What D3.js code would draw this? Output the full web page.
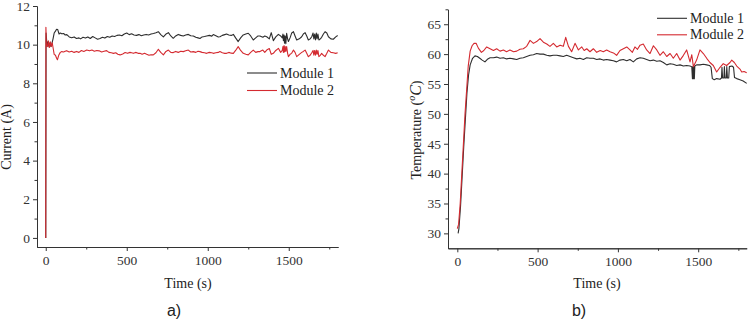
<!DOCTYPE html>
<html>
<head>
<meta charset="utf-8">
<script src="https://cdn.jsdelivr.net/npm/d3@7"></script>
<style>
  body { margin: 0; background: #fff; }
</style>
</head>
<body>
<svg id="chart" width="748" height="325"></svg>
<script>
// ---- data ----
const seriesNames = ['Module 1', 'Module 2'];

// current [time s, current A]
const current1 = [[0,0],[2,10.6],[8,9.95],[14,10.15],[20,9.9],[26,10.1],[32,9.9],[38,10.05],[45,10.3],[52,10.6],[60,10.7],[67,10.8],[74,10.78],[82,10.55],[90,10.6],[99,10.56],[110,10.58],[120,10.5],[130,10.52],[145,10.4],[160,10.36],[175,10.4],[190,10.32],[205,10.35],[215,10.3],[230,10.38],[245,10.34],[260,10.4],[275,10.32],[290,10.42],[305,10.35],[320,10.28],[335,10.32],[350,10.38],[365,10.34],[380,10.42],[395,10.38],[410,10.45],[425,10.42],[440,10.48],[455,10.5],[470,10.46],[485,10.55],[500,10.6],[515,10.52],[530,10.56],[545,10.5],[560,10.48],[575,10.52],[590,10.46],[605,10.5],[620,10.53],[635,10.5],[650,10.55],[665,10.58],[680,10.62],[695,10.67],[710,10.52],[726,10.4],[742,10.55],[757,10.62],[772,10.45],[787,10.33],[802,10.45],[818,10.53],[833,10.48],[849,10.45],[864,10.5],[880,10.53],[895,10.46],[911,10.45],[926,10.38],[940,10.35],[952,10.32],[965,10.4],[980,10.42],[993,10.45],[1010,10.48],[1025,10.44],[1034,10.52],[1050,10.46],[1065,10.4],[1075,10.41],[1090,10.48],[1105,10.52],[1116,10.55],[1130,10.5],[1145,10.48],[1158,10.53],[1172,10.35],[1188,10.16],[1203,10.35],[1219,10.5],[1235,10.55],[1250,10.59],[1265,10.45],[1281,10.24],[1296,10.35],[1310,10.45],[1322,10.45],[1340,10.38],[1352,10.45],[1364,10.41],[1380,10.3],[1392,10.62],[1405,10.21],[1420,10.4],[1436,10.53],[1450,10.45],[1460,10.35],[1464,10.55],[1467,10.2],[1471,10.5],[1474,10.07],[1478,10.45],[1482,10.05],[1487,10.59],[1493,10.3],[1498,10.16],[1508,10.35],[1518,10.6],[1529,10.67],[1539,10.45],[1549,10.24],[1565,10.3],[1580,10.41],[1590,10.55],[1601,10.62],[1611,10.45],[1621,10.24],[1632,10.3],[1642,10.41],[1650,10.6],[1655,10.3],[1660,10.55],[1665,10.25],[1670,10.6],[1675,10.3],[1680,10.55],[1686,10.24],[1695,10.3],[1703,10.38],[1714,10.55],[1724,10.67],[1735,10.6],[1745,10.41],[1760,10.3],[1775,10.28],[1790,10.4],[1802,10.47]];

const current2 = [[0,0],[1,10.9],[4,10.0],[10,9.9],[16,10.2],[22,9.85],[28,10.15],[34,9.9],[40,10.1],[46,9.8],[52,9.5],[60,9.45],[67,9.3],[72,9.22],[80,9.45],[90,9.6],[99,9.64],[110,9.62],[120,9.66],[129,9.69],[145,9.62],[160,9.66],[175,9.6],[190,9.65],[205,9.6],[220,9.7],[235,9.65],[253,9.72],[270,9.68],[285,9.72],[300,9.66],[315,9.7],[330,9.68],[345,9.62],[360,9.66],[376,9.69],[390,9.6],[405,9.58],[418,9.55],[432,9.58],[445,9.5],[459,9.47],[475,9.52],[490,9.59],[505,9.55],[520,9.6],[530,9.58],[541,9.55],[555,9.6],[570,9.55],[582,9.55],[595,9.5],[610,9.55],[623,9.5],[637,9.45],[650,9.48],[664,9.47],[680,9.58],[695,9.76],[710,9.6],[726,9.47],[742,9.65],[757,9.72],[772,9.6],[787,9.59],[802,9.65],[818,9.6],[833,9.66],[849,9.64],[864,9.68],[880,9.72],[895,9.62],[911,9.64],[926,9.6],[940,9.66],[952,9.64],[965,9.6],[980,9.58],[993,9.55],[1010,9.6],[1025,9.58],[1034,9.55],[1050,9.58],[1065,9.6],[1075,9.64],[1090,9.58],[1105,9.55],[1116,9.55],[1130,9.6],[1145,9.56],[1158,9.55],[1172,9.7],[1188,9.9],[1203,9.7],[1219,9.55],[1235,9.5],[1250,9.47],[1265,9.6],[1281,9.72],[1296,9.6],[1310,9.64],[1322,9.64],[1340,9.72],[1352,9.6],[1364,9.72],[1380,9.8],[1392,9.5],[1405,9.55],[1420,9.7],[1436,9.81],[1450,9.6],[1460,9.7],[1464,9.9],[1467,9.6],[1471,9.95],[1474,9.62],[1478,9.9],[1482,9.65],[1487,9.9],[1493,9.55],[1498,9.38],[1508,9.5],[1518,9.55],[1529,9.72],[1539,9.6],[1549,9.38],[1565,9.5],[1580,9.6],[1590,9.65],[1601,9.72],[1611,9.55],[1621,9.38],[1632,9.45],[1642,9.58],[1650,9.7],[1655,9.45],[1660,9.7],[1665,9.45],[1670,9.72],[1675,9.5],[1680,9.7],[1686,9.38],[1695,9.45],[1703,9.55],[1714,9.45],[1724,9.38],[1735,9.55],[1745,9.72],[1760,9.6],[1775,9.58],[1790,9.55],[1802,9.58]];

// temperature [time s, deg C]
const temp1 = [[5,30.0],[10,30.8],[20,34.5],[30,39.5],[40,44.5],[50,49],[60,53.5],[70,56.5],[80,58.2],[95,59.3],[110,59.7],[125,59.6],[140,59.3],[155,59.0],[172,58.7],[190,59.2],[204,59.4],[225,59.4],[245,59.5],[266,59.3],[287,59.4],[307,59.2],[328,59.3],[350,59.2],[370,59.1],[390,59.3],[411,59.4],[432,59.6],[453,59.8],[474,59.9],[494,60.1],[515,60.0],[536,60.0],[557,59.8],[577,59.7],[598,59.8],[619,59.8],[640,59.7],[660,59.6],[681,59.8],[702,59.6],[723,59.4],[744,59.2],[764,59.3],[785,59.1],[806,59.4],[826,59.3],[847,59.3],[868,59.1],[889,59.2],[909,59.0],[930,59.1],[951,59.0],[972,58.9],[992,58.7],[1013,59.0],[1034,59.1],[1055,58.9],[1075,59.1],[1096,58.7],[1117,59.2],[1138,59.4],[1158,59.3],[1179,59.1],[1200,58.9],[1221,59.0],[1242,58.8],[1262,58.9],[1283,58.6],[1304,58.2],[1325,58.4],[1345,58.3],[1366,58.1],[1387,58.2],[1408,58.0],[1428,58.1],[1449,58.0],[1460,57.9],[1464,55.9],[1467,57.9],[1470,55.9],[1473,57.9],[1476,55.9],[1479,58.0],[1490,58.2],[1511,58.2],[1532,58.3],[1553,58.2],[1570,58.1],[1580,57.8],[1588,55.9],[1600,55.7],[1615,55.9],[1636,55.8],[1645,56.0],[1648,57.8],[1652,56.0],[1660,56.0],[1663,57.9],[1667,56.0],[1675,56.0],[1678,57.9],[1682,56.0],[1690,56.0],[1694,57.9],[1710,58.0],[1720,57.8],[1726,56.1],[1740,55.9],[1760,55.7],[1780,55.5],[1802,55.1]];

const temp2 = [[0,30.8],[8,31.5],[18,35],[28,40],[38,45],[48,50],[58,54],[68,58],[80,60.5],[92,61.4],[104,61.8],[117,61.8],[131,61],[150,60.3],[165,60.6],[183,61.2],[204,60.9],[225,60.6],[245,60.9],[266,60.5],[287,60.7],[307,60.4],[328,60.7],[350,60.4],[370,60.5],[390,60.8],[411,60.9],[432,61.3],[453,62.3],[474,61.8],[494,62.1],[515,62.6],[536,62.0],[557,61.7],[577,61.3],[598,61.8],[619,61.2],[640,61.5],[660,61.3],[675,62.8],[692,61.3],[712,60.4],[733,61.8],[754,60.7],[775,61.2],[790,60.6],[806,60.9],[826,60.4],[847,60.9],[868,60.3],[890,60.6],[909,60.4],[930,60.7],[951,60.4],[972,60.2],[992,59.8],[1013,60.6],[1034,60.9],[1055,61.2],[1075,60.7],[1090,60.3],[1106,61.2],[1122,60.8],[1138,61.5],[1158,61.7],[1179,60.7],[1200,60.1],[1221,61.4],[1242,60.7],[1262,59.8],[1283,60.4],[1304,59.6],[1325,60.1],[1345,59.3],[1366,60.1],[1387,59.0],[1408,59.8],[1428,60.7],[1449,58.7],[1460,59.9],[1470,57.9],[1490,59.0],[1511,60.7],[1532,60.1],[1553,59.3],[1573,58.6],[1594,58.1],[1615,57.0],[1636,57.8],[1656,58.4],[1677,58.1],[1698,58.6],[1709,59.0],[1725,58.6],[1740,58.0],[1760,57.5],[1771,57.0],[1786,57.1],[1802,56.9]];

const timeTicks = [0, 500, 1000, 1500];
const timeMinor = [250, 750, 1250, 1750];
const currentTicks = [0, 2, 4, 6, 8, 10, 12];
const currentMinor = [1, 3, 5, 7, 9, 11];
const tempTicks = [30, 35, 40, 45, 50, 55, 60, 65];
const tempMinor = [32.5, 37.5, 42.5, 47.5, 52.5, 57.5, 62.5, 67.5];

const colors = ['#2e2e2e', '#d42a30'];
const serif = '"Liberation Serif", "Times New Roman", serif';

const svg = d3.select('#chart');

function panel(opt) {
  const x = d3.scaleLinear().domain(opt.xDomain).range(opt.xRange);
  const y = d3.scaleLinear().domain(opt.yDomain).range(opt.yRange);
  const g = svg.append('g');

  // minor ticks first, then the labelled axes over them
  g.append('g')
    .attr('transform', `translate(0,${opt.yRange[0]})`)
    .call(d3.axisBottom(x).tickValues(timeMinor).tickFormat('').tickSize(2.5).tickSizeOuter(0));
  g.append('g')
    .attr('transform', `translate(${opt.xRange[0]},0)`)
    .call(d3.axisLeft(y).tickValues(opt.yMinor).tickFormat('').tickSize(2.5).tickSizeOuter(0));

  g.append('g')
    .attr('transform', `translate(0,${opt.yRange[0]})`)
    .call(d3.axisBottom(x).tickValues(timeTicks).tickFormat(d3.format('d'))
      .tickSize(4).tickSizeOuter(0).tickPadding(4));
  g.append('g')
    .attr('transform', `translate(${opt.xRange[0]},0)`)
    .call(d3.axisLeft(y).tickValues(opt.yTicks).tickFormat(d3.format('d'))
      .tickSize(4).tickSizeOuter(0).tickPadding(3));

  g.selectAll('.domain, .tick line').attr('stroke', '#333').attr('stroke-width', 1);
  g.selectAll('.tick text')
    .style('font-family', serif)
    .style('font-size', '13.5px')
    .style('fill', '#333');

  const line = d3.line().x(d => x(d[0])).y(d => y(d[1]));
  opt.series.forEach((s, i) => {
    g.append('path')
      .datum(s)
      .attr('fill', 'none')
      .attr('stroke', colors[i])
      .attr('stroke-width', 1.1)
      .attr('stroke-linejoin', 'round')
      .attr('d', line);
  });

  // legend
  seriesNames.forEach((name, i) => {
    const ly = opt.legend[1] + i * opt.legendGap;
    g.append('line')
      .attr('x1', opt.legend[0]).attr('x2', opt.legend[0] + 30)
      .attr('y1', ly).attr('y2', ly)
      .attr('stroke', colors[i]).attr('stroke-width', 1.1);
    g.append('text')
      .attr('x', opt.legend[0] + 33).attr('y', ly)
      .attr('dy', '0.33em')
      .style('font-family', serif).style('font-size', '14px').style('fill', '#222')
      .text(name);
  });

  g.append('text')
    .attr('x', opt.xTitleX).attr('y', 288)
    .attr('text-anchor', 'middle')
    .style('font-family', serif).style('font-size', '14px').style('fill', '#222')
    .text('Time (s)');

  const yt = g.append('text')
    .attr('transform', `translate(${opt.yTitle[0]},${opt.yTitle[1]}) rotate(-90)`)
    .attr('text-anchor', 'middle')
    .style('font-family', serif).style('font-size', '14px').style('fill', '#222');
  opt.yTitleParts(yt);

  g.append('text')
    .attr('x', opt.caption).attr('y', 316)
    .attr('text-anchor', 'middle')
    .style('font-family', '"Liberation Sans", Arial, sans-serif')
    .style('font-size', '16px').style('fill', '#222')
    .text(opt.captionText);
}

panel({
  xDomain: [-54, 1804], xRange: [37, 338],
  yDomain: [-0.47, 12], yRange: [247, 6],
  yTicks: currentTicks, yMinor: currentMinor,
  series: [current1, current2],
  legend: [247, 73], legendGap: 17.5,
  xTitleX: 188, yTitle: [11, 137],
  yTitleParts: t => t.text('Current (A)'),
  caption: 174, captionText: 'a)'
});

panel({
  xDomain: [-58, 1802], xRange: [448, 746.7],
  yDomain: [27.5, 67.5], yRange: [248.3, 9.3],
  yTicks: tempTicks, yMinor: tempMinor,
  series: [temp1, temp2],
  legend: [657, 18.3], legendGap: 16.5,
  xTitleX: 597, yTitle: [421, 130],
  yTitleParts: t => {
    t.append('tspan').text('Temperature (');
    t.append('tspan').style('font-style', 'italic').style('font-size', '10px').attr('dy', -6).text('o');
    t.append('tspan').style('font-style', 'italic').style('font-size', '16px').attr('dy', 6).text('C');
    t.append('tspan').text(')');
  },
  caption: 579, captionText: 'b)'
});
</script>
</body>
</html>
